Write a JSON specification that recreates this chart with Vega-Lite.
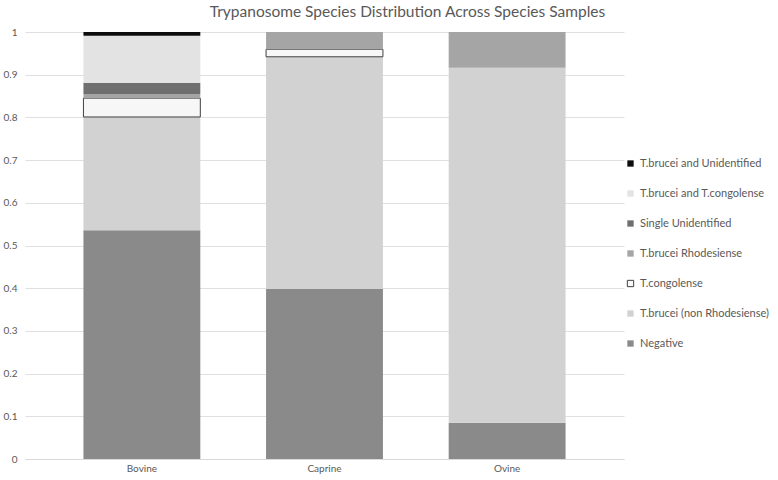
{
  "$schema": "https://vega.github.io/schema/vega-lite/v6.json",
  "width": 599,
  "height": 427,
  "autosize": "none",
  "padding": {"left": 25, "top": 32, "right": 154, "bottom": 21},
  "background": "white",
  "title": {
    "text": "Trypanosome  Species Distribution Across Species Samples",
    "font": "Lato",
    "fontSize": 15.5,
    "fontWeight": "normal",
    "color": "#595959",
    "anchor": "middle",
    "dx": 83,
    "offset": 7
  },
  "data": {
    "values": [
      {"animal": "Bovine", "species": "Negative", "value": 0.536, "ord": 1},
      {"animal": "Bovine", "species": "T.brucei (non Rhodesiense)", "value": 0.265, "ord": 2},
      {"animal": "Bovine", "species": "T.congolense", "value": 0.044, "ord": 3},
      {"animal": "Bovine", "species": "T.brucei Rhodesiense", "value": 0.010, "ord": 4},
      {"animal": "Bovine", "species": "Single Unidentified", "value": 0.026, "ord": 5},
      {"animal": "Bovine", "species": "T.brucei and T.congolense", "value": 0.110, "ord": 6},
      {"animal": "Bovine", "species": "T.brucei and Unidentified", "value": 0.009, "ord": 7},
      {"animal": "Caprine", "species": "Negative", "value": 0.398, "ord": 1},
      {"animal": "Caprine", "species": "T.brucei (non Rhodesiense)", "value": 0.544, "ord": 2},
      {"animal": "Caprine", "species": "T.congolense", "value": 0.0175, "ord": 3},
      {"animal": "Caprine", "species": "T.brucei Rhodesiense", "value": 0.0405, "ord": 4},
      {"animal": "Ovine", "species": "Negative", "value": 0.085, "ord": 1},
      {"animal": "Ovine", "species": "T.brucei (non Rhodesiense)", "value": 0.831, "ord": 2},
      {"animal": "Ovine", "species": "T.brucei Rhodesiense", "value": 0.084, "ord": 4}
    ]
  },
  "mark": {"type": "bar", "strokeWidth": 1},
  "encoding": {
    "x": {
      "field": "animal",
      "type": "nominal",
      "scale": {"paddingInner": 0.36, "paddingOuter": 0.32},
      "axis": {
        "title": null,
        "labelAngle": 0,
        "labelFont": "Lato",
        "labelFontSize": 10,
        "labelColor": "#595959",
        "ticks": false,
        "domainColor": "#d9d9d9",
        "labelPadding": 4
      }
    },
    "y": {
      "field": "value",
      "type": "quantitative",
      "stack": "zero",
      "scale": {"domain": [0, 1], "nice": false},
      "axis": {
        "title": null,
        "values": [0, 0.1, 0.2, 0.3, 0.4, 0.5, 0.6, 0.7, 0.8, 0.9, 1],
        "format": "~g",
        "labelFont": "Lato",
        "labelFontSize": 10,
        "labelColor": "#595959",
        "ticks": false,
        "domain": false,
        "gridColor": "#e0e0e0",
        "labelPadding": 8
      }
    },
    "order": {"field": "ord", "type": "quantitative", "sort": "ascending"},
    "fill": {
      "field": "species",
      "type": "nominal",
      "scale": {
        "domain": ["T.brucei and Unidentified", "T.brucei and T.congolense", "Single Unidentified", "T.brucei Rhodesiense", "T.congolense", "T.brucei (non Rhodesiense)", "Negative"],
        "range": ["#0d0d0d", "#e3e3e3", "#6f6f6f", "#a5a5a5", "#f7f7f7", "#d2d2d2", "#8a8a8a"]
      },
      "legend": {
        "title": null,
        "orient": "none",
        "legendX": 600,
        "legendY": 126,
        "symbolType": "square",
        "symbolSize": 40,
        "symbolStrokeWidth": 1,
        "rowPadding": 18,
        "labelFont": "Lato",
        "labelFontSize": 11,
        "labelColor": "#595959",
        "labelOffset": 4
      }
    },
    "stroke": {
      "field": "species",
      "type": "nominal",
      "scale": {
        "domain": ["T.brucei and Unidentified", "T.brucei and T.congolense", "Single Unidentified", "T.brucei Rhodesiense", "T.congolense", "T.brucei (non Rhodesiense)", "Negative"],
        "range": ["transparent", "transparent", "transparent", "transparent", "#404040", "transparent", "transparent"]
      }
    }
  },
  "config": {"view": {"stroke": null}}
}
